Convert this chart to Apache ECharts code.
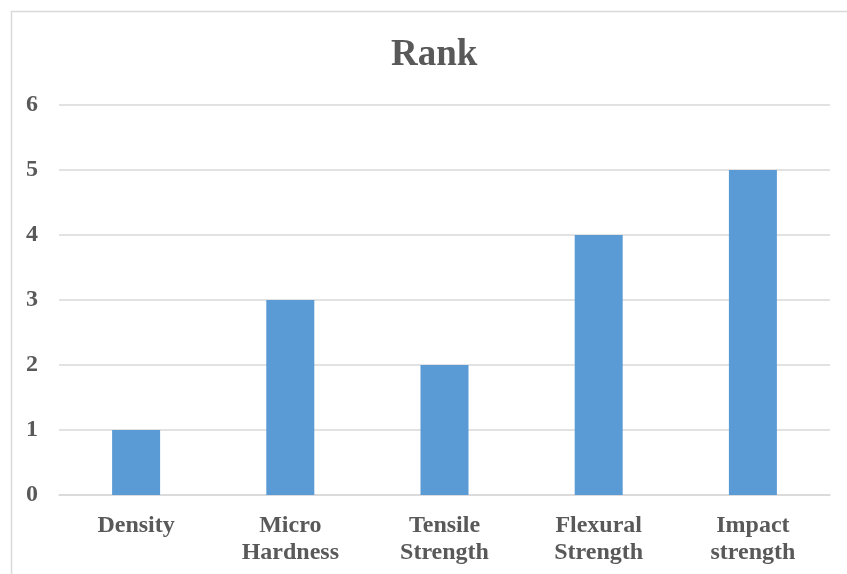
<!DOCTYPE html>
<html><head><meta charset="utf-8">
<script src="https://cdn.jsdelivr.net/npm/echarts@6/dist/echarts.min.js"></script>
<style>html,body{margin:0;padding:0;background:#fff}#c{width:847px;height:574px}</style>
</head><body><div id="c"></div>
<script>
var categories = ['Density', 'Micro\nHardness', 'Tensile\nStrength', 'Flexural\nStrength', 'Impact\nstrength'];
var rankValues = [1, 3, 2, 4, 5];
var yTicks = [0, 1, 2, 3, 4, 5, 6];
var titleText = 'Rank';

var chart = echarts.init(document.getElementById('c'), null, {renderer: 'canvas'});
var font = '"Liberation Serif", "Times New Roman", serif';
chart.setOption({
  animation: false,
  backgroundColor: '#fff',
  graphic: [{
    type: 'rect', left: 9, top: 9, shape: {x: 0, y: 0, width: 900, height: 700},
    style: {fill: 'none', stroke: '#d9d9d9', lineWidth: 1.5}, silent: true, z: -1
  }],
  title: {
    text: titleText, left: 386, top: 32,
    textStyle: {fontFamily: font, fontSize: 37, fontWeight: 'bold', color: '#595959'}
  },
  grid: {left: 59, right: 17, top: 105, bottom: 79, containLabel: false},
  xAxis: {
    type: 'category', data: categories,
    axisLine: {show: true, lineStyle: {color: '#d9d9d9', width: 1.5}},
    axisTick: {show: false},
    axisLabel: {fontFamily: font, fontSize: 24, fontWeight: 'bold', color: '#595959', margin: 17, lineHeight: 27, interval: 0}
  },
  yAxis: {
    type: 'value', min: yTicks[0], max: yTicks[yTicks.length - 1], interval: 1,
    axisLine: {show: false}, axisTick: {show: false},
    splitLine: {lineStyle: {color: '#d9d9d9', width: 1.5}},
    axisLabel: {fontFamily: font, fontSize: 24, fontWeight: 'bold', color: '#595959', margin: 21}
  },
  series: [{
    type: 'bar', data: rankValues, barWidth: 48,
    itemStyle: {color: '#5b9bd5'}
  }]
});
</script></body></html>
